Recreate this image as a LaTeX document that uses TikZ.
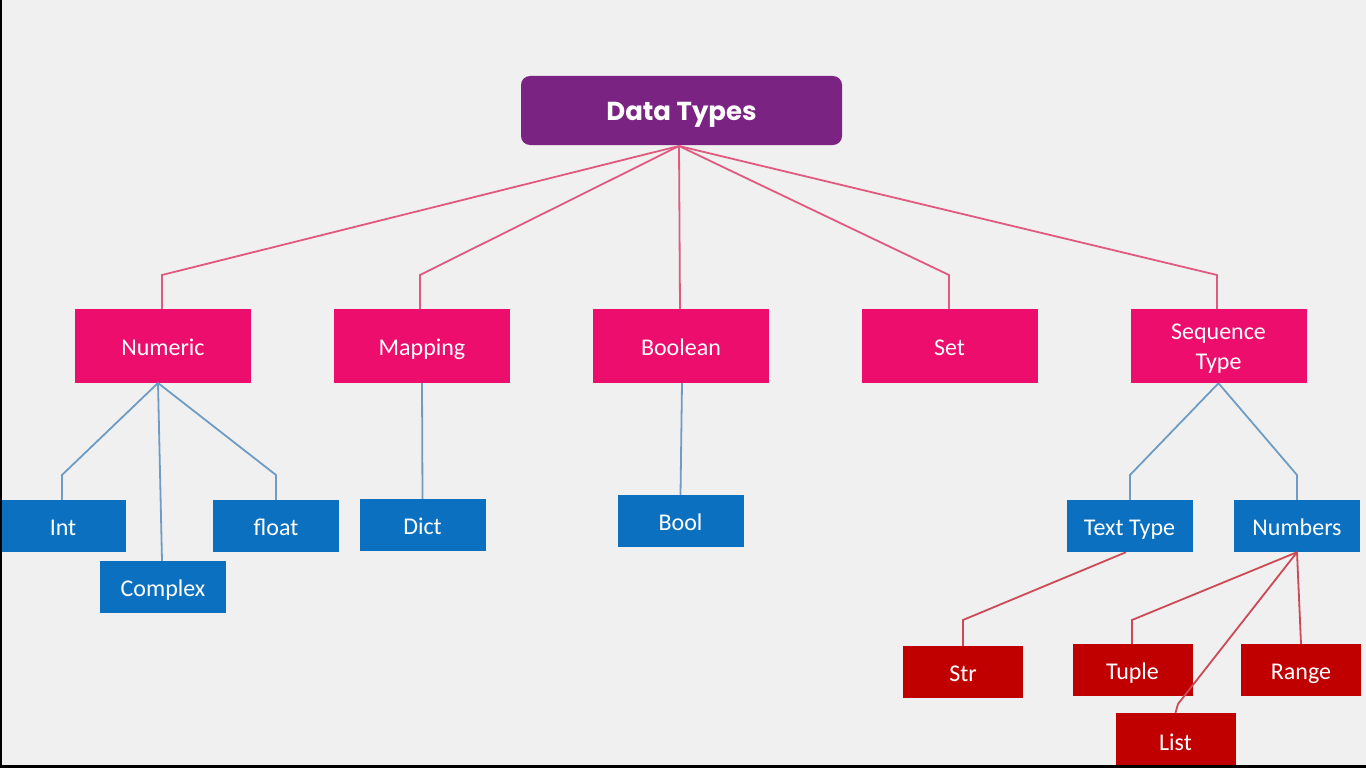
\documentclass[tikz,border=0pt]{standalone}
\usepackage{fontspec}
\setmainfont{Carlito}
\newfontfamily\titlefont{Poppins}
\definecolor{bg}{HTML}{F0F0F0}
\definecolor{purp}{HTML}{7A2383}
\definecolor{pinkbox}{HTML}{EC0D6C}
\definecolor{bluebox}{HTML}{0A70BF}
\definecolor{redbox}{HTML}{C00000}
\definecolor{pinkline}{HTML}{E05A80}
\definecolor{blueline}{HTML}{6E9CC4}
\definecolor{redline}{HTML}{CC4A55}
\tikzset{
  box/.style={rectangle, inner sep=0pt, text=white, align=center, font=\fontsize{24}{30}\selectfont},
  oneline/.style={text height=18pt, text depth=0pt},
  pinkb/.style={box, fill=pinkbox, minimum width=176pt, minimum height=74pt},
  blueb/.style={box, oneline, fill=bluebox, minimum width=126pt, minimum height=52pt},
  redb/.style={box, oneline, fill=redbox, minimum width=120pt, minimum height=52pt},
  pl/.style={draw=pinkline, line width=1.8pt},
  bl/.style={draw=blueline, line width=1.8pt},
  rl/.style={draw=redline, line width=1.8pt},
}
\begin{document}
\begin{tikzpicture}[x=1pt,y=-1pt]
\useasboundingbox (0,0) rectangle (1366,768);
\fill[bg] (0,0) rectangle (1366,768);

% title
\node[rectangle, rounded corners=9pt, fill=purp, minimum width=321pt, minimum height=69pt, inner sep=0pt, text=white, text height=19pt, text depth=0pt, font=\titlefont\bfseries\fontsize{26}{30}\selectfont] (dt) at (681.5,110.5) {Data Types};

% level 1
\node[pinkb, oneline] (num) at (163,346) {Numeric};
\node[pinkb, oneline] (map) at (422,346) {Mapping};
\node[pinkb, oneline] (boo) at (681,346) {Boolean};
\node[pinkb, oneline] (set) at (949.5,346) {Set};
\node[pinkb] (seq) at (1218.5,346) {};
\node[box] (seqlabel) at (1218.5,349) {Sequence\\Type};

% level 2
\node[blueb] (int) at (63,526) {Int};
\node[blueb] (cpx) at (163,587) {Complex};
\node[blueb] (flt) at (276,526) {float};
\node[blueb] (dict) at (422.5,525) {Dict};
\node[blueb] (bool) at (680.5,521) {Bool};
\node[blueb] (txt) at (1129.5,526) {Text Type};
\node[blueb] (nbs) at (1297,526) {Numbers};

% level 3
\node[redb] (str) at (963,672) {Str};
\node[redb] (tup) at (1132.5,670) {Tuple};
\node[redb] (rng) at (1301,670) {Range};
\node[redb, minimum height=56pt] (lst) at (1175.5,741) {List};

% connectors from title
\coordinate (dtb) at (679,146);
\draw[pl] (dtb) -- (162,275) -- (162,309);
\draw[pl] (dtb) -- (420,275) -- (420,309);
\draw[pl] (dtb) -- (680,309);
\draw[pl] (dtb) -- (949,275) -- (949,309);
\draw[pl] (dtb) -- (1217,275) -- (1217,309);

% numeric children
\coordinate (numb) at (158,383);
\draw[bl] (numb) -- (62,475) -- (int.north -| 62,0);
\draw[bl] (numb) -- (cpx.north -| 162,0);
\draw[bl] (numb) -- (276,475) -- (flt.north);
\draw[bl] (map.south) -- (dict.north);
\draw[bl] (boo.south -| 682,0) -- (bool.north);
\draw[bl] (seq.south) -- (1130,475) -- (txt.north -| 1130,0);
\draw[bl] (seq.south) -- (1297,475) -- (nbs.north);

% sequence grandchildren
\draw[rl] (txt.south -| 1126,0) -- (963,620) -- (str.north);
\draw[rl] (nbs.south) -- (1132,620) -- (tup.north -| 1132,0);
\draw[rl] (nbs.south) -- (rng.north);
\draw[rl] (nbs.south) -- (1178,704) -- (lst.north);

% frame edges
\fill[black] (0,0) rectangle (2,768);
\fill[black] (0,765) rectangle (1366,768);
\end{tikzpicture}
\end{document}
